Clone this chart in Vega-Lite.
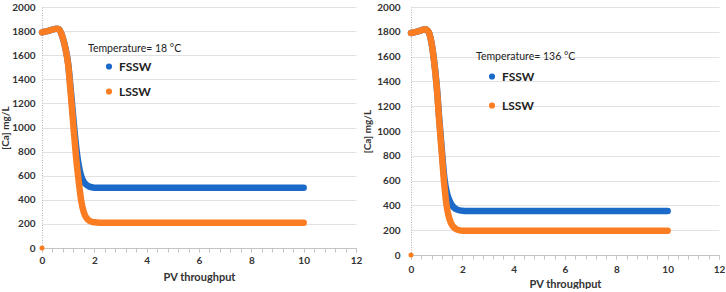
{
  "$schema": "https://vega.github.io/schema/vega-lite/v6.json",
  "padding": {"left": 0, "top": 2, "right": 0, "bottom": 0},
  "background": "white",
  "spacing": 0,
  "config": {
    "view": {"stroke": null},
    "font": "Lato",
    "axis": {
      "labelFont": "Lato",
      "titleFont": "Lato",
      "labelFontSize": 10,
      "labelFontWeight": "bold",
      "labelColor": "#333333",
      "titleFontSize": 11,
      "titleFontWeight": "bold",
      "titleColor": "#333333",
      "labelOverlap": false
    },
    "axisX": {
      "grid": false,
      "domainColor": "#c4c4c4",
      "tickColor": "#c4c4c4",
      "tickSize": 4,
      "labelPadding": 3,
      "titlePadding": 6
    },
    "axisY": {
      "grid": true,
      "gridColor": "#e2e2e2",
      "domainColor": "#b0b0b0",
      "domainDash": [1, 1.5],
      "tickSize": 0
    },
    "legend": {
      "labelFont": "Lato",
      "titleFont": "Lato",
      "labelFontSize": 12,
      "titleFontSize": 10.5,
      "labelFontWeight": "bold",
      "titleFontWeight": "normal",
      "labelColor": "#222222",
      "titleColor": "#222222",
      "symbolType": "circle",
      "symbolSize": 10,
      "symbolStrokeWidth": 3
    }
  },
  "datasets": {
    "left": [
      {"pv": 0, "ca": 1790, "series": "FSSW"},
      {"pv": 0.2, "ca": 1800, "series": "FSSW"},
      {"pv": 0.4, "ca": 1812, "series": "FSSW"},
      {"pv": 0.55, "ca": 1820, "series": "FSSW"},
      {"pv": 0.65, "ca": 1815, "series": "FSSW"},
      {"pv": 0.72, "ca": 1790, "series": "FSSW"},
      {"pv": 0.8, "ca": 1740, "series": "FSSW"},
      {"pv": 0.9, "ca": 1655, "series": "FSSW"},
      {"pv": 1.0, "ca": 1530, "series": "FSSW"},
      {"pv": 1.1, "ca": 1310, "series": "FSSW"},
      {"pv": 1.2, "ca": 1070, "series": "FSSW"},
      {"pv": 1.3, "ca": 850, "series": "FSSW"},
      {"pv": 1.4, "ca": 690, "series": "FSSW"},
      {"pv": 1.5, "ca": 595, "series": "FSSW"},
      {"pv": 1.6, "ca": 548, "series": "FSSW"},
      {"pv": 1.7, "ca": 524, "series": "FSSW"},
      {"pv": 1.8, "ca": 511, "series": "FSSW"},
      {"pv": 1.9, "ca": 504, "series": "FSSW"},
      {"pv": 2.0, "ca": 501, "series": "FSSW"},
      {"pv": 2.2, "ca": 500, "series": "FSSW"},
      {"pv": 10, "ca": 500, "series": "FSSW"},
      {"pv": 0, "ca": 1790, "series": "LSSW"},
      {"pv": 0.2, "ca": 1800, "series": "LSSW"},
      {"pv": 0.4, "ca": 1812, "series": "LSSW"},
      {"pv": 0.55, "ca": 1820, "series": "LSSW"},
      {"pv": 0.65, "ca": 1815, "series": "LSSW"},
      {"pv": 0.72, "ca": 1790, "series": "LSSW"},
      {"pv": 0.8, "ca": 1740, "series": "LSSW"},
      {"pv": 0.9, "ca": 1650, "series": "LSSW"},
      {"pv": 1.0, "ca": 1520, "series": "LSSW"},
      {"pv": 1.1, "ca": 1280, "series": "LSSW"},
      {"pv": 1.2, "ca": 1010, "series": "LSSW"},
      {"pv": 1.3, "ca": 760, "series": "LSSW"},
      {"pv": 1.4, "ca": 560, "series": "LSSW"},
      {"pv": 1.5, "ca": 390, "series": "LSSW"},
      {"pv": 1.6, "ca": 295, "series": "LSSW"},
      {"pv": 1.7, "ca": 250, "series": "LSSW"},
      {"pv": 1.8, "ca": 228, "series": "LSSW"},
      {"pv": 1.9, "ca": 218, "series": "LSSW"},
      {"pv": 2.0, "ca": 213, "series": "LSSW"},
      {"pv": 2.2, "ca": 210, "series": "LSSW"},
      {"pv": 10, "ca": 210, "series": "LSSW"}
    ],
    "right": [
      {"pv": 0, "ca": 1790, "series": "FSSW"},
      {"pv": 0.2, "ca": 1800, "series": "FSSW"},
      {"pv": 0.4, "ca": 1812, "series": "FSSW"},
      {"pv": 0.55, "ca": 1820, "series": "FSSW"},
      {"pv": 0.65, "ca": 1810, "series": "FSSW"},
      {"pv": 0.73, "ca": 1775, "series": "FSSW"},
      {"pv": 0.8, "ca": 1710, "series": "FSSW"},
      {"pv": 0.9, "ca": 1565, "series": "FSSW"},
      {"pv": 1.0, "ca": 1370, "series": "FSSW"},
      {"pv": 1.1, "ca": 1100, "series": "FSSW"},
      {"pv": 1.2, "ca": 850, "series": "FSSW"},
      {"pv": 1.3, "ca": 620, "series": "FSSW"},
      {"pv": 1.4, "ca": 500, "series": "FSSW"},
      {"pv": 1.5, "ca": 440, "series": "FSSW"},
      {"pv": 1.6, "ca": 400, "series": "FSSW"},
      {"pv": 1.7, "ca": 378, "series": "FSSW"},
      {"pv": 1.8, "ca": 366, "series": "FSSW"},
      {"pv": 1.9, "ca": 360, "series": "FSSW"},
      {"pv": 2.0, "ca": 357, "series": "FSSW"},
      {"pv": 2.2, "ca": 355, "series": "FSSW"},
      {"pv": 10, "ca": 355, "series": "FSSW"},
      {"pv": 0, "ca": 1790, "series": "LSSW"},
      {"pv": 0.2, "ca": 1800, "series": "LSSW"},
      {"pv": 0.4, "ca": 1812, "series": "LSSW"},
      {"pv": 0.55, "ca": 1820, "series": "LSSW"},
      {"pv": 0.65, "ca": 1810, "series": "LSSW"},
      {"pv": 0.73, "ca": 1775, "series": "LSSW"},
      {"pv": 0.8, "ca": 1710, "series": "LSSW"},
      {"pv": 0.9, "ca": 1560, "series": "LSSW"},
      {"pv": 1.0, "ca": 1360, "series": "LSSW"},
      {"pv": 1.1, "ca": 1080, "series": "LSSW"},
      {"pv": 1.2, "ca": 820, "series": "LSSW"},
      {"pv": 1.3, "ca": 560, "series": "LSSW"},
      {"pv": 1.4, "ca": 380, "series": "LSSW"},
      {"pv": 1.5, "ca": 290, "series": "LSSW"},
      {"pv": 1.6, "ca": 240, "series": "LSSW"},
      {"pv": 1.7, "ca": 218, "series": "LSSW"},
      {"pv": 1.8, "ca": 205, "series": "LSSW"},
      {"pv": 1.9, "ca": 199, "series": "LSSW"},
      {"pv": 2.0, "ca": 196, "series": "LSSW"},
      {"pv": 2.2, "ca": 195, "series": "LSSW"},
      {"pv": 10, "ca": 195, "series": "LSSW"}
    ],
    "origin": [
      {"pv": 0, "ca": 0, "series": "LSSW"}
    ]
  },
  "resolve": {"legend": {"color": "independent"}},
  "hconcat": [
    {
      "width": 314,
      "height": 241,
      "resolve": {"axis": {"x": "independent"}},
      "encoding": {
        "y": {"field": "ca", "type": "quantitative", "scale": {"domain": [0, 2000], "nice": false}, "title": "[Ca] mg/L",
          "axis": {"values": [0,200,400,600,800,1000,1200,1400,1600,1800,2000], "format": "d", "labelOverlap": false, "labelFlush": false, "labelPadding": 7, "titlePadding": 1, "titleFontSize": 10}}
      },
      "layer": [
        {
          "data": {"name": "left"},
          "mark": {"type": "line", "strokeWidth": 6.5, "strokeCap": "round", "strokeJoin": "round", "interpolate": "monotone"},
          "encoding": {
            "x": {"field": "pv", "type": "quantitative", "scale": {"domain": [0, 12], "nice": false}, "title": "PV throughput",
              "axis": {"orient": "bottom", "values": [0,2,4,6,8,10,12], "format": "d", "labelOverlap": false, "labelFlush": false}},
            "color": {"field": "series", "type": "nominal", "scale": {"domain": ["FSSW", "LSSW"], "range": ["#1b6ac9", "#fb7d22"]},
              "legend": {"title": "Temperature= 18 °C", "orient": "none", "legendX": 46, "legendY": 37, "symbolOffset": 15, "rowPadding": 9, "titlePadding": 6}}
          }
        },
        {
          "data": {"name": "origin"},
          "mark": {"type": "point", "filled": true, "size": 25, "opacity": 1, "color": "#fb7d22"},
          "encoding": {
            "x": {"field": "pv", "type": "quantitative",
              "axis": {"orient": "bottom", "values": [0,0.4,0.8,1.2,1.6,2,2.4,2.8,3.2,3.6,4,4.4,4.8,5.2,5.6,6,6.4,6.8,7.2,7.6,8,8.4,8.8,9.2,9.6,10,10.4,10.8,11.2,11.6,12], "labels": false, "domain": false, "title": null, "grid": false, "offset": 0}}
          }
        }
      ]
    },
    {
      "width": 308,
      "height": 248,
      "resolve": {"axis": {"x": "independent"}},
      "encoding": {
        "y": {"field": "ca", "type": "quantitative", "scale": {"domain": [0, 2000], "nice": false}, "title": "[Ca] mg/L",
          "axis": {"values": [0,200,400,600,800,1000,1200,1400,1600,1800,2000], "format": "d", "labelOverlap": false, "labelFlush": false, "labelPadding": 11, "titlePadding": 4, "titleFontSize": 10}}
      },
      "layer": [
        {
          "data": {"name": "right"},
          "mark": {"type": "line", "strokeWidth": 6.5, "strokeCap": "round", "strokeJoin": "round", "interpolate": "monotone"},
          "encoding": {
            "x": {"field": "pv", "type": "quantitative", "scale": {"domain": [0, 12], "nice": false}, "title": "PV throughput",
              "axis": {"orient": "bottom", "values": [0,2,4,6,8,10,12], "format": "d", "labelOverlap": false, "labelFlush": false, "labelPadding": 5, "titlePadding": 4}},
            "color": {"field": "series", "type": "nominal", "scale": {"domain": ["FSSW", "LSSW"], "range": ["#1b6ac9", "#fb7d22"]},
              "legend": {"title": "Temperature= 136 °C", "orient": "none", "legendX": 65, "legendY": 45, "symbolOffset": 10, "rowPadding": 13, "titlePadding": 8}}
          }
        },
        {
          "data": {"name": "origin"},
          "mark": {"type": "point", "filled": true, "size": 25, "opacity": 1, "color": "#fb7d22"},
          "encoding": {
            "x": {"field": "pv", "type": "quantitative",
              "axis": {"orient": "bottom", "values": [0,0.4,0.8,1.2,1.6,2,2.4,2.8,3.2,3.6,4,4.4,4.8,5.2,5.6,6,6.4,6.8,7.2,7.6,8,8.4,8.8,9.2,9.6,10,10.4,10.8,11.2,11.6,12], "labels": false, "domain": false, "title": null, "grid": false, "offset": 0}}
          }
        }
      ]
    }
  ]
}
